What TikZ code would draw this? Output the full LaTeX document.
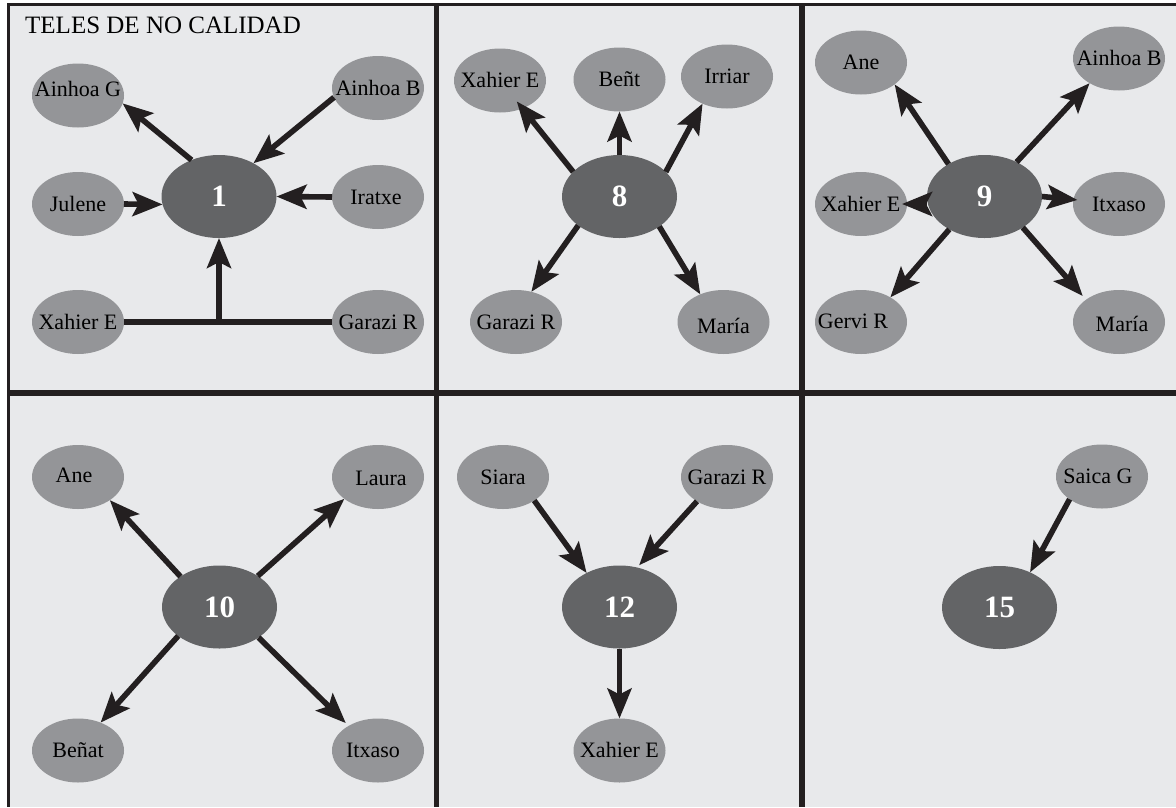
\documentclass[tikz,border=0pt]{standalone}
\usepackage{fontspec}
\setmainfont{Liberation Serif}
\usetikzlibrary{arrows.meta,shapes.geometric}
\definecolor{bgc}{HTML}{E8E9EB}
\definecolor{persc}{HTML}{949598}
\definecolor{hubc}{HTML}{636466}
\definecolor{inkc}{HTML}{231F20}
\newcommand\nm[1]{\makebox[0pt]{#1}}
\newcommand\nmx[3]{\raisebox{#2}[0pt][0pt]{\makebox[0pt]{\hspace*{#1}\hspace*{#1}#3}}}
\begin{document}
\begin{tikzpicture}[x=1pt,y=-1pt,
  pers/.style={ellipse, fill=persc, minimum width=92pt, minimum height=64pt,
    inner sep=0pt, outer sep=0pt, text height=14.5pt, text depth=0pt,
    font=\fontsize{22}{24}\selectfont, text=black},
  hub/.style={ellipse, fill=hubc, minimum width=115pt, minimum height=83pt,
    inner sep=0pt, outer sep=0pt, font=\fontsize{31}{33}\selectfont\bfseries, text=white},
  arr/.style={draw=inkc, line width=5.6pt, -{Stealth[length=30pt 0,width=24pt 0,inset=6pt 0]}},
  link/.style={draw=inkc, line width=5.6pt},
  frame/.style={draw=inkc, line width=3pt},
  divider/.style={draw=inkc, line width=5.5pt}]
\useasboundingbox (0,0) rectangle (1176,807);
\fill[white] (0,0) rectangle (1176,807);
\fill[bgc] (8.7,4.7) rectangle (1176,807);
\draw[frame] (1176,4.7) -- (8.7,4.7) -- (8.7,807);
\draw[divider] (436.5,4.7) -- (436.5,807);
\draw[divider] (802,4.7) -- (802,807);
\draw[divider] (8.7,393) -- (1176,393);

\node[anchor=base west, font=\fontsize{25}{28}\selectfont, inner sep=0pt] (title) at (25,33) {TELES DE NO CALIDAD};

% panel 1
\node[hub] (c1) at (219,196.5) {1};
\node[pers] (ag1) at (78,95.5) {\nmx{0pt}{6pt}{Ainhoa G}};
\node[pers] (ab1) at (378,88) {\nm{Ainhoa B}};
\node[pers] (ju1) at (78,204) {\nm{Julene}};
\node[pers] (ir1) at (378,197) {\nmx{-2pt}{0pt}{Iratxe}};
\node[pers] (xe1) at (78,322) {\nm{Xahier E}};
\node[pers] (gr1) at (378,322) {\nm{Garazi R}};

% panel 2
\node[hub] (c8) at (619.5,196.5) {8};
\node[pers] (xe2) at (500,80.5) {\nm{Xahier E}};
\node[pers] (bn2) at (619.5,79.5) {\nm{Beñt}};
\node[pers] (iv2) at (727,76.5) {\nm{Irriar}};
\node[pers] (gr2) at (516,322) {\nm{Garazi R}};
\node[pers] (ma2) at (723.5,322) {\nmx{0pt}{-4pt}{María}};

% panel 3
\node[hub] (c9) at (984.5,196.5) {9};
\node[pers] (an3) at (861,62.5) {\nm{Ane}};
\node[pers] (ab3) at (1119,58.5) {\nm{Ainhoa B}};
\node[pers] (xe3) at (861,204) {\nm{Xahier E}};
\node[pers] (it3) at (1119,204) {\nm{Itxaso}};
\node[pers] (gv3) at (861,322) {\nmx{-8pt}{1pt}{Gervi R}};
\node[pers] (ma3) at (1119,322) {\nmx{3pt}{-2pt}{María}};

% panel 4
\node[hub] (c10) at (219.5,607) {10};
\node[pers] (an4) at (78,477) {\nmx{-4pt}{2pt}{Ane}};
\node[pers] (la4) at (378,477) {\nmx{3pt}{-1pt}{Laura}};
\node[pers] (be4) at (78,750.5) {\nm{Beñat}};
\node[pers] (it4) at (378,750.5) {\nmx{-5pt}{0pt}{Itxaso}};

% panel 5
\node[hub] (c12) at (619.5,607) {12};
\node[pers] (si5) at (503,477) {\nm{Siara}};
\node[pers] (gr5) at (727,477) {\nm{Garazi R}};
\node[pers] (xe5) at (619.5,750.5) {\nm{Xahier E}};

% panel 6
\node[hub] (c15) at (999.5,607.5) {15};
\node[pers] (sg6) at (1102,476.5) {\nmx{-4pt}{0pt}{Saica G}};

% connectors panel 1
\draw[arr] (c1.127) -- (ag1.-10);
\draw[arr] (ab1.192) -- (c1.44);
\draw[arr] (ju1.east) -- (c1.188);
\draw[arr] (ir1.west) -- (c1.east);
\draw[link] (xe1.east) -- (gr1.west);
\coordinate (j1) at (c1.south |- xe1.east);
\draw[arr] (j1) -- (c1.south);

% connectors panel 2
\draw[arr, shorten >=-9pt] (c8.152) -- (xe2);
\draw[arr] (c8.north) -- (bn2.south);
\draw[arr] (c8.28) -- (iv2.228);
\draw[arr] (c8.215) -- (gr2.63);
\draw[arr] (c8.-37) -- (ma2.130);

% connectors panel 3
\draw[arr] (c9.138) -- (an3.-33);
\draw[arr] (c9.47) -- (ab3.220);
\draw[arr, shorten >=-5pt] (c9.west |- xe3.east) -- (xe3.east);
\draw[arr, shorten >=-4pt] (c9.east) -- (it3);
\draw[arr] (c9.223) -- (gv3.40);
\draw[arr, shorten >=5pt] (c9.-39) -- (ma3.146);

% connectors panel 4
\draw[arr] (c10.142) -- (an4.-36);
\draw[arr] (c10.39) -- (la4.213);
\draw[arr] (c10.215) -- (be4.51);
\draw[arr, shorten >=4pt] (c10.-38) -- (it4.140);

% connectors panel 5
\draw[arr] (si5.-37) -- (c12.134);
\draw[arr, shorten >=3pt] (gr5.219) -- (c12.66);
\draw[arr] (c12.south) -- (xe5.north);

% connectors panel 6
\draw[arr] (sg6.215) -- (c15.49);
\end{tikzpicture}
\end{document}
